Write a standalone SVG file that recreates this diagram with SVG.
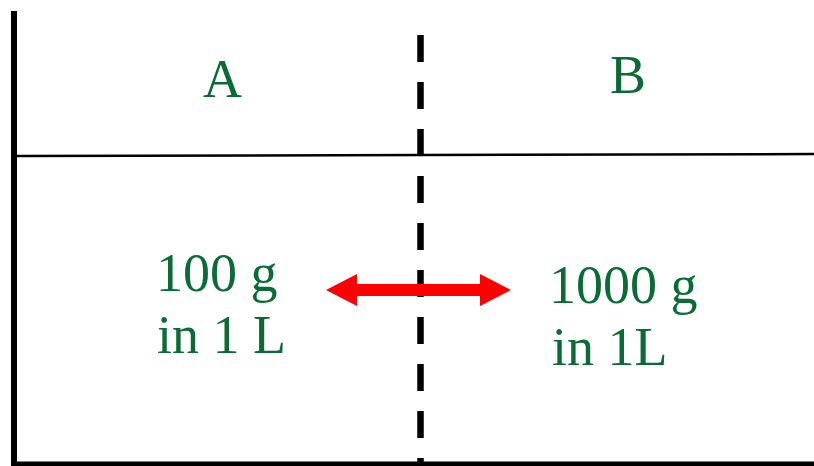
<svg xmlns="http://www.w3.org/2000/svg" width="814" height="466" viewBox="0 0 814 466">
<style>
.t{font-family:"Liberation Serif","Times New Roman",serif;font-size:54px;fill:#0a6b35}
.ln{stroke:#000;fill:none}
</style>
<rect width="814" height="466" fill="#fff"/>
<g id="frame">
<line class="ln" x1="14" y1="11" x2="14" y2="466" stroke-width="6"/>
<line class="ln" x1="11" y1="464" x2="814" y2="464" stroke-width="5"/>
<line class="ln" x1="17" y1="156" x2="814" y2="154" stroke-width="2.5"/>
<line class="ln" x1="420.5" y1="35" x2="420.5" y2="466" stroke-width="6.5" stroke-dasharray="27 20"/>
</g>
<g id="labelA"><text class="t" x="203" y="97">A</text></g>
<g id="labelB"><text class="t" x="610" y="93">B</text></g>
<g id="sideA"><text class="t" x="156" y="291">100 g</text><text class="t" x="157" y="353">in 1 L</text></g>
<g id="sideB"><text class="t" x="549" y="303">1000 g</text><text class="t" x="552" y="365">in 1L</text></g>
<g id="connectors">
<polygon fill="#ff0000" points="326,290 357,274 357,284 480,284 480,274 511,290 480,306 480,296 357,296 357,306"/>
</g>
</svg>
